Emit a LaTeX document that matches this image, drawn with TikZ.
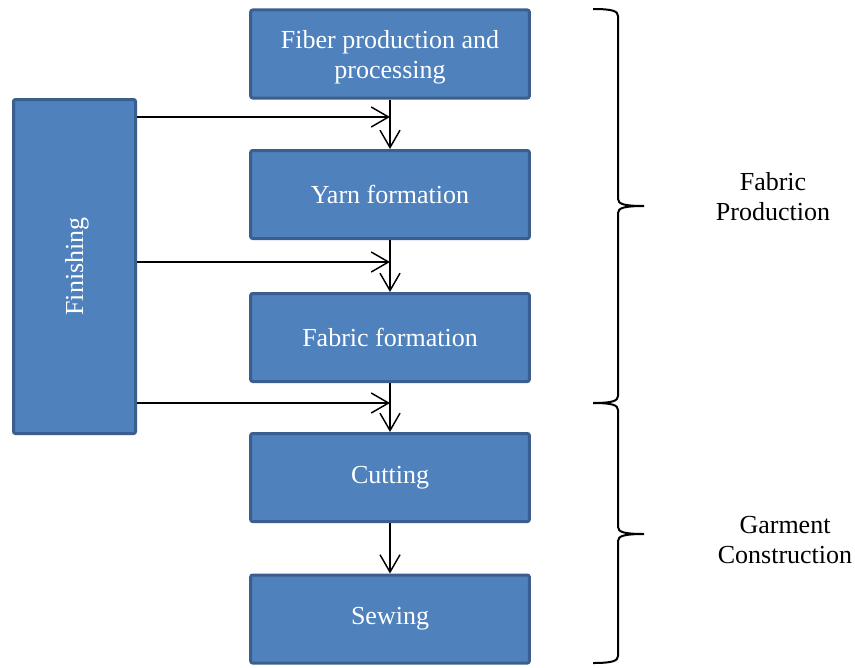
\documentclass[tikz,border=0pt]{standalone}
\usepackage{fontspec}
\setmainfont{Liberation Serif}
\usetikzlibrary{arrows.meta}

\definecolor{boxfill}{HTML}{4F81BD}
\definecolor{boxline}{HTML}{3A5F8E}

\begin{document}
\begin{tikzpicture}[x=0.75pt,y=-0.75pt,
  >={Straight Barb[length=13pt,width=15pt]},
  every node/.style={font=\fontsize{19.5}{22.5}\selectfont}]
 \useasboundingbox (0,0) rectangle (855,667);
 \tikzstyle{stage} = [rectangle,rounded corners=1.5pt,fill=boxfill,draw=boxline,
   line width=2.25pt,text=white,align=center,minimum width=209pt,minimum height=66pt]
 \node[stage] (fiber) at (390,54) {\raisebox{-18.5pt}[0pt][0pt]{\shortstack{Fiber production and\\[2.5pt]processing}}};
 \node[stage] (yarn) at (390,194.5) {Yarn formation};
 \node[stage] (fabric) at (390,337.5) {Fabric formation};
 \node[stage] (cutting) at (390,477.5) {Cutting};
 \node[stage] (sewing) at (390,619) {Sewing};
 \node[stage,minimum width=91.5pt,minimum height=250.5pt] (finishing) at (74.5,266.5) {};
 \node[text=white,rotate=90] (fintext) at (77,266.5) {Finishing};
 \coordinate (in1) at (390,117);
 \coordinate (in2) at (390,262);
 \coordinate (in3) at (390,403);
 \draw [->,line width=1.1pt] (fiber) to (yarn);
 \draw [->,line width=1.1pt] (yarn) to (fabric);
 \draw [->,line width=1.1pt] (fabric) to (cutting);
 \draw [->,line width=1.1pt] (cutting) to (sewing);
 \draw [->,line width=1.1pt] (finishing.east |- in1) -- (in1);
 \draw [->,line width=1.1pt] (finishing.east |- in2) -- (in2);
 \draw [->,line width=1.1pt] (finishing.east |- in3) -- (in3);
 % braces
 \draw [line width=1.5pt]
   (593,9) .. controls (612,9) and (618,11) .. (618,16) -- (618,199)
   .. controls (618,204) and (624,206) .. (644,206)
   .. controls (624,206) and (618,208) .. (618,213) -- (618,396)
   .. controls (618,401) and (612,403) .. (593,403);
 \draw [line width=1.5pt]
   (593,403) .. controls (612,403) and (618,405) .. (618,410) -- (618,527)
   .. controls (618,532) and (624,534) .. (644,534)
   .. controls (624,534) and (618,536) .. (618,541) -- (618,656)
   .. controls (618,661) and (612,663) .. (593,663);
 \node[align=center] (fabprod) at (773,197) {Fabric\\Production};
 \node[align=center] (garcon) at (785,540) {Garment\\Construction};
\end{tikzpicture}
\end{document}
